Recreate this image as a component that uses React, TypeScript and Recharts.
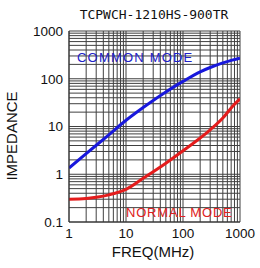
import React from "react";
import { LineChart, Line, XAxis, YAxis, CartesianGrid } from "recharts";

// impedance curves (ohms vs MHz)
const commonFreqs = [1, 2, 5, 10, 20, 50, 100, 200, 300, 500, 700, 1000];
const commonMode = [1.35, 2.7, 6.7, 13.5, 25, 53, 88, 140, 172, 215, 243, 270];
const normalFreqs = [1, 2, 3, 5, 10, 20, 50, 100, 300, 500, 750, 1000];
const normalMode = [0.3, 0.31, 0.33, 0.37, 0.48, 0.82, 1.7, 3.1, 8.5, 15, 27, 38];

// log grid lines
const freqTicks = [
  1, 2, 3, 4, 5, 6, 7, 8, 9, 10, 20, 30, 40, 50, 60, 70, 80, 90, 100, 200, 300,
  400, 500, 600, 700, 800, 900, 1000,
];
const zTicks = [
  0.1, 0.2, 0.3, 0.4, 0.5, 0.6, 0.7, 0.8, 0.9, 1, 2, 3, 4, 5, 6, 7, 8, 9, 10,
  20, 30, 40, 50, 60, 70, 80, 90, 100, 200, 300, 400, 500, 600, 700, 800, 900,
  1000,
];
const freqLabels = [1, 10, 100, 1000];
const zLabels = [0.1, 1, 10, 100, 1000];

const commonData = commonFreqs.map((f, i) => ({ f, z: commonMode[i] }));
const normalData = normalFreqs.map((f, i) => ({ f, z: normalMode[i] }));

const tickStyle = { fontFamily: "Liberation Sans", fontSize: 13.5, fill: "#111" };

export default function App() {
  return (
    <div style={{ position: "absolute", left: 0, top: 0, width: 260, height: 268, background: "#fff" }}>
      <LineChart width={260} height={268} margin={{ top: 31, right: 20, bottom: 0, left: 0 }}>
        <CartesianGrid stroke="#404040" strokeWidth={1} />
        <XAxis
          dataKey="f"
          type="number"
          scale="log"
          domain={[1, 1000]}
          ticks={freqTicks}
          interval={0}
          allowDataOverflow
          height={46}
          tickLine={false}
          tickSize={4}
          tickMargin={2}
          axisLine={{ stroke: "#333" }}
          tick={tickStyle}
          tickFormatter={(v: number) => (freqLabels.includes(v) ? String(v) : "")}
        />
        <YAxis
          dataKey="z"
          type="number"
          scale="log"
          domain={[0.1, 1000]}
          ticks={zTicks}
          interval={0}
          allowDataOverflow
          width={69}
          tickLine={false}
          tickSize={4}
          tickMargin={2}
          axisLine={{ stroke: "#333" }}
          tick={tickStyle}
          tickFormatter={(v: number) => (zLabels.includes(v) ? String(v) : "")}
        />
        <Line
          data={commonData}
          dataKey="z"
          type="monotone"
          stroke="#1818dc"
          strokeWidth={3}
          dot={false}
          isAnimationActive={false}
        />
        <Line
          data={normalData}
          dataKey="z"
          type="monotone"
          stroke="#e41c1c"
          strokeWidth={3}
          dot={false}
          isAnimationActive={false}
        />
      </LineChart>
      <div
        style={{
          position: "absolute",
          left: 154,
          top: 7,
          transform: "translateX(-50%)",
          fontFamily: "DejaVu Sans Mono",
          fontSize: 13,
          lineHeight: "16px",
          color: "#111",
          whiteSpace: "nowrap",
        }}
      >
        TCPWCH-1210HS-900TR
      </div>
      <div
        style={{
          position: "absolute",
          left: 77,
          top: 51,
          fontFamily: "Liberation Sans",
          fontSize: 13,
          letterSpacing: 1.2,
          lineHeight: "14px",
          color: "#2020c8",
          whiteSpace: "nowrap",
        }}
      >
        COMMON MODE
      </div>
      <div
        style={{
          position: "absolute",
          left: 126,
          top: 206,
          fontFamily: "Liberation Sans",
          fontSize: 13,
          letterSpacing: 0.8,
          lineHeight: "14px",
          color: "#e02020",
          whiteSpace: "nowrap",
        }}
      >
        NORMAL MODE
      </div>
      <div
        style={{
          position: "absolute",
          left: 153,
          top: 244,
          transform: "translateX(-50%)",
          fontFamily: "Liberation Sans",
          fontSize: 15,
          lineHeight: "16px",
          color: "#111",
          whiteSpace: "nowrap",
        }}
      >
        FREQ(MHz)
      </div>
      <div
        style={{
          position: "absolute",
          left: 12,
          top: 136,
          transform: "translate(-50%, -50%) rotate(-90deg)",
          fontFamily: "Liberation Sans",
          fontSize: 15,
          lineHeight: "16px",
          color: "#111",
          whiteSpace: "nowrap",
        }}
      >
        IMPEDANCE
      </div>
    </div>
  );
}
